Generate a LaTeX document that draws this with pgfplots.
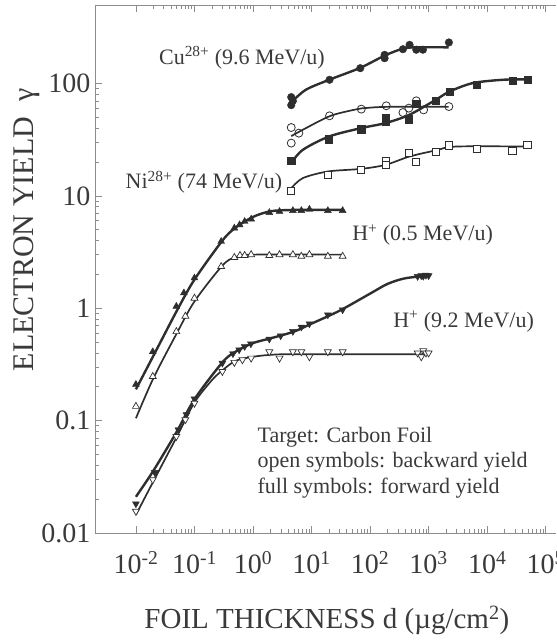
\documentclass[border=0pt]{standalone}
\usepackage{pgfplots}
\pgfplotsset{compat=1.18}
\usepackage{fontspec}
\setmainfont{Liberation Serif}
\definecolor{ink}{HTML}{2E2E2E}
\definecolor{txt}{HTML}{3A3A3A}
\definecolor{frame}{HTML}{8C8C8C}
\begin{document}
\begin{tikzpicture}
\begin{axis}[
  scale only axis, width=461pt, height=528pt,
  xmode=log, ymode=log,
  xmin=0.002, xmax=1.5e5, ymin=0.01, ymax=500,
  axis y line*=left,
  y axis line style={-},
  axis line style={frame, line width=0.8pt},
  tick style={frame, line width=0.7pt},
  major tick length=7pt, minor tick length=4pt,
  xtick={0.01,0.1,1,10,100,1000,10000,100000},
  xticklabels={10\textsuperscript{-2},10\textsuperscript{-1},10\textsuperscript{0},10\textsuperscript{1},10\textsuperscript{2},10\textsuperscript{3},10\textsuperscript{4},10\textsuperscript{5}},
  ytick={0.01,0.1,1,10,100},
  yticklabels={0.01,0.1,1,10,100},
  xtick pos=both,
  tick label style={text=txt, font=\fontsize{28}{32}\selectfont},
  xticklabel style={yshift=-15pt},
  yticklabel style={xshift=-1pt},
  xlabel={FOIL THICKNESS d (µg/cm\textsuperscript{2})},
  ylabel={ELECTRON YIELD\ \ γ},
  every axis x label/.style={at={(axis description cs:0.503,-0.165)}, anchor=center, text=txt, font=\fontsize{29}{34}\selectfont},
  every axis y label/.style={at={(axis description cs:-0.1475,0.574)}, rotate=90, anchor=center, text=txt, font=\fontsize{30}{34}\selectfont},
  clip=false,
]
\coordinate (A) at (rel axis cs:0,0);
\coordinate (B) at (rel axis cs:1,1);

% ---------- fitted curves ----------
% Cu forward
\addplot[ink, line width=2.4pt, smooth] coordinates {(4.5,68) (8,88) (20,108) (68,138) (180,178) (370,205) (600,210) (2200,210)};
% Cu backward
\addplot[ink, line width=1.7pt, smooth] coordinates {(4.5,34) (6,37) (20,51) (50,58) (70,60) (190,62) (2200,62)};
% Ni forward
\addplot[ink, line width=2.4pt, smooth] coordinates {(4.5,19.6) (7.1,25.7) (20,33.8) (70,40.1) (184,44.5) (470,52.7) (1320,71.6) (2290,85) (5710,101) (18600,108) (48600,109)};
% Ni backward
\addplot[ink, line width=1.7pt, smooth] coordinates {(4.5,11.7) (7.1,14.4) (19,16.5) (70.8,17.4) (184,18.9) (470,22.4) (1320,25.4) (2970,27.5) (48600,27.5)};
% H+ 0.5 forward
\addplot[ink, line width=2.4pt, smooth] coordinates {(0.01,0.19) (0.02,0.38) (0.05,0.95) (0.1,1.8) (0.3,4.0) (0.5,5.2) (1,6.5) (2,7.3) (5,7.5) (34,7.5)};
% H+ 0.5 backward
\addplot[ink, line width=1.7pt, smooth] coordinates {(0.01,0.105) (0.02,0.24) (0.05,0.6) (0.1,1.15) (0.3,2.4) (0.5,2.85) (1,3.0) (34,3.0)};
% H+ 9.2 forward
\addplot[ink, line width=2.4pt, smooth] coordinates {(0.01,0.021) (0.02,0.036) (0.05,0.08) (0.1,0.155) (0.3,0.33) (0.5,0.41) (1,0.49) (2,0.54) (5,0.62) (10,0.73) (30,0.95) (100,1.35) (200,1.65) (400,1.85) (1000,1.95)};
% H+ 9.2 backward
\addplot[ink, line width=1.7pt, smooth] coordinates {(0.01,0.0145) (0.02,0.029) (0.05,0.072) (0.1,0.145) (0.2,0.23) (0.3,0.28) (0.5,0.34) (1,0.37) (2,0.385) (5,0.39) (1000,0.39)};

% ---------- data points ----------
% Cu forward (filled circles)
\addplot[only marks, mark=*, mark size=3.8pt, mark options={draw=ink, fill=ink}] coordinates {
(4.5,75.7) (4.5,64.2) (4.8,70) (20.3,108) (68,137) (177,180) (177,168) (364,202) (473,221) (616,200) (800,200) (2220,232)};
% Cu backward (open circles)
\addplot[only marks, mark=o, mark size=4pt, mark options={draw=ink, fill=white, line width=0.8pt}] coordinates {
(4.5,40.6) (4.5,29.5) (6.07,36.2) (20.3,51.6) (70.8,59.2) (189,63.4) (364,55.2) (460,60.4) (616,70.2) (822,58.3) (2220,62.4)};
% Ni forward (filled squares)
\addplot[only marks, mark=square*, mark size=3.6pt, mark options={draw=ink, fill=ink}] coordinates {
(4.5,20.6) (19.8,32) (70.8,39.3) (184,45.9) (184,49.9) (460,48.2) (616,66) (1320,70.6) (2290,84.9) (6700,97.3) (27000,106) (48600,109)};
% Ni backward (open squares)
\addplot[only marks, mark=square*, mark size=3.6pt, mark options={draw=ink, fill=white, line width=0.8pt}] coordinates {
(4.5,11.1) (19,15.4) (70.8,17.1) (184,20.6) (184,18.9) (460,24) (616,20.2) (1320,24.8) (2220,28.1) (6700,26.2) (27000,25.3) (48600,28.5)};
% H+ 0.5 forward (filled up triangles)
\addplot[only marks, mark=triangle*, mark size=4pt, mark options={draw=ink, fill=ink}] coordinates {
(0.01,0.21) (0.0194,0.41) (0.049,1.04) (0.066,1.37) (0.1,1.86) (0.286,3.93) (0.48,5.17) (0.59,5.53) (0.72,5.92) (0.93,6.22) (1.9,7.1) (2.84,7.26) (4.8,7.4) (6.7,7.4) (9.2,7.6) (19,7.4) (34,7.4)};
% H+ 0.5 backward (open up triangles)
\addplot[only marks, mark=triangle*, mark size=4pt, mark options={draw=ink, fill=white, line width=0.7pt}] coordinates {
(0.01,0.134) (0.0194,0.247) (0.049,0.62) (0.07,0.85) (0.1,1.23) (0.286,2.35) (0.48,2.83) (0.6,2.95) (0.72,2.95) (0.93,3.0) (1.9,2.95) (2.84,3.0) (4.8,3.0) (6.7,2.9) (9.2,3.0) (19,2.9) (34,2.9)};
% H+ 9.2 forward (filled down triangles)
\addplot[only marks, mark=triangle*, mark size=4pt, mark options={draw=ink, fill=ink, rotate=180}] coordinates {
(0.01,0.0182) (0.021,0.0346) (0.053,0.083) (0.073,0.113) (0.1,0.156) (0.30,0.325) (0.455,0.394) (0.58,0.427) (0.72,0.457) (0.92,0.483) (1.9,0.532) (2.97,0.569) (4.8,0.622) (6.7,0.681) (9.2,0.728) (19,0.875) (34,0.97) (650,1.92) (750,1.95) (810,1.93) (900,1.97) (1000,1.95)};
% H+ 9.2 backward (open down triangles)
\addplot[only marks, mark=triangle*, mark size=4pt, mark options={draw=ink, fill=white, line width=0.7pt, rotate=180}] coordinates {
(0.01,0.0156) (0.0194,0.0298) (0.049,0.0723) (0.07,0.102) (0.1,0.143) (0.30,0.274) (0.48,0.33) (0.66,0.348) (0.93,0.36) (1.9,0.41) (2.84,0.36) (4.8,0.41) (6.7,0.41) (9.2,0.37) (19,0.41) (34,0.41) (650,0.40) (750,0.37) (810,0.42) (900,0.40) (1000,0.40)};

% ---------- labels ----------
\node[text=txt, font=\fontsize{22}{26}\selectfont] at (axis cs:0.648,169) {Cu\textsuperscript{28+} (9.6 MeV/u)};
\node[text=txt, font=\fontsize{22}{26}\selectfont] at (axis cs:0.145,13.3) {Ni\textsuperscript{28+} (74 MeV/u)};
\node[text=txt, font=\fontsize{22}{26}\selectfont] at (axis cs:789,4.51) {H\textsuperscript{+} (0.5 MeV/u)};
\node[text=txt, font=\fontsize{22}{26}\selectfont] at (axis cs:3960,0.759) {H\textsuperscript{+} (9.2 MeV/u)};
\node[text=txt, font=\fontsize{22}{25.5}\selectfont, align=left, anchor=west, inner sep=0pt] at (axis cs:1.19,0.0422) {Target: Carbon Foil\\open symbols: backward yield\\full symbols: forward yield};
\end{axis}
\pgfresetboundingbox
\path ([xshift=-95pt,yshift=-108pt]A) rectangle ([yshift=5pt]B);
\end{tikzpicture}
\end{document}
